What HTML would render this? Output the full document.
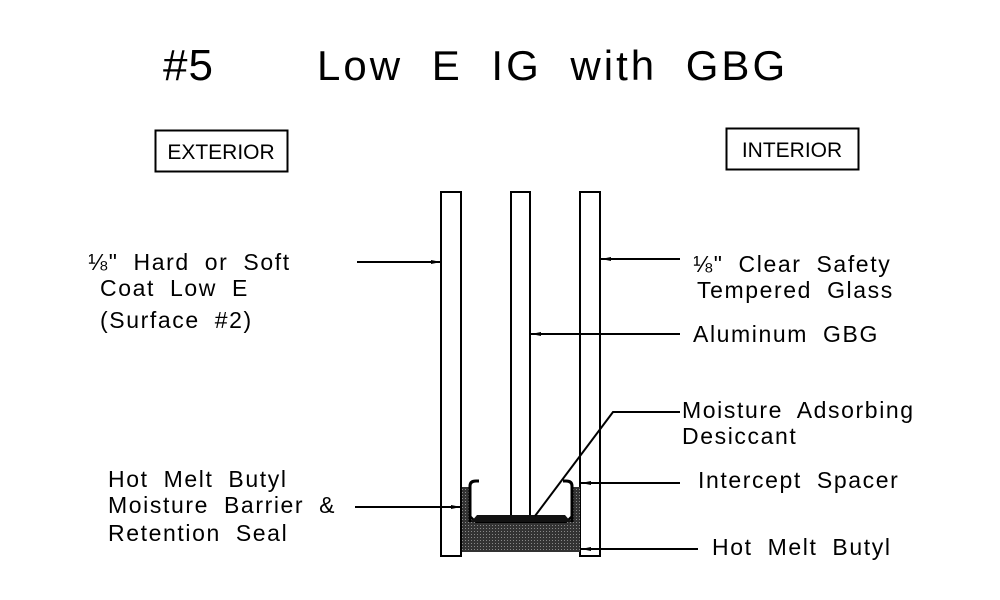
<!DOCTYPE html>
<html><head><meta charset="utf-8"><style>
html,body{margin:0;padding:0;background:#fff}
svg{display:block}
text{font-family:"Liberation Sans","DejaVu Sans",sans-serif;fill:#000}
</style></head><body>
<svg width="1000" height="600" viewBox="0 0 1000 600" xmlns="http://www.w3.org/2000/svg">
<defs>
<pattern id="dots" width="3" height="3" patternUnits="userSpaceOnUse"><rect width="3" height="3" fill="#333"/><rect width="1" height="1" fill="#888"/></pattern>
<marker id="ar" markerWidth="10" markerHeight="6" refX="10" refY="3" orient="auto" markerUnits="userSpaceOnUse"><path d="M0,1 L10,3 L0,5 z" fill="#000"/></marker>
</defs>
<text x="163" y="80" font-size="44" font-weight="300" letter-spacing="1">#5</text>
<text x="317" y="80" font-size="42" letter-spacing="3" word-spacing="14">Low E IG with GBG</text>
<rect x="155.5" y="130.5" width="132" height="41" fill="none" stroke="#000" stroke-width="2"/>
<text x="221" y="159" font-size="21" text-anchor="middle">EXTERIOR</text>
<rect x="726.5" y="128.5" width="132" height="41" fill="none" stroke="#000" stroke-width="2"/>
<text x="792" y="157" font-size="21" text-anchor="middle">INTERIOR</text>
<g fill="none" stroke="#000" stroke-width="2">
<rect x="441" y="192" width="20" height="364"/>
<rect x="511" y="192" width="19" height="325"/>
<rect x="580" y="192" width="20" height="364"/>
</g>
<path d="M462,487 L470,487 L470,516 L476,522 L566,522 L572,516 L572,487 L580,487 L580,552 L462,552 z" fill="url(#dots)"/>
<path d="M470,522 L470,486 Q470,481 476,481 L479,481" fill="none" stroke="#000" stroke-width="3"/>
<path d="M572,522 L572,486 Q572,481 566,481 L563,481" fill="none" stroke="#000" stroke-width="3"/>
<path d="M470,516 L476,522 L566,522 L572,516" fill="none" stroke="#000" stroke-width="2"/>
<polygon points="477,515 565,515 571,522 471,522" fill="#111"/>
<g stroke="#000" stroke-width="2" fill="none">
<line x1="357" y1="262" x2="441" y2="262" marker-end="url(#ar)"/>
<line x1="680" y1="259" x2="601" y2="259" marker-end="url(#ar)"/>
<line x1="680" y1="334" x2="531" y2="334" marker-end="url(#ar)"/>
<polyline points="680,412 613,412 535,516"/>
<line x1="680" y1="483" x2="581" y2="483" marker-end="url(#ar)"/>
<line x1="698" y1="549" x2="581" y2="549" marker-end="url(#ar)"/>
<line x1="355" y1="507" x2="461" y2="507" marker-end="url(#ar)"/>
</g>
<g font-size="23" letter-spacing="1.6" word-spacing="7">
<text x="88" y="270">⅛" Hard or Soft</text>
<text x="100" y="296">Coat Low E</text>
<text x="100" y="328">(Surface #2)</text>
<text x="108" y="487">Hot Melt Butyl</text>
<text x="108" y="513">Moisture Barrier &amp;</text>
<text x="108" y="541">Retention Seal</text>
<text x="693" y="272">⅛" Clear Safety</text>
<text x="697" y="298">Tempered Glass</text>
<text x="693" y="342">Aluminum GBG</text>
<text x="682" y="418">Moisture Adsorbing</text>
<text x="682" y="444">Desiccant</text>
<text x="698" y="488">Intercept Spacer</text>
<text x="712" y="555">Hot Melt Butyl</text>
</g>
</svg>
</body></html>
